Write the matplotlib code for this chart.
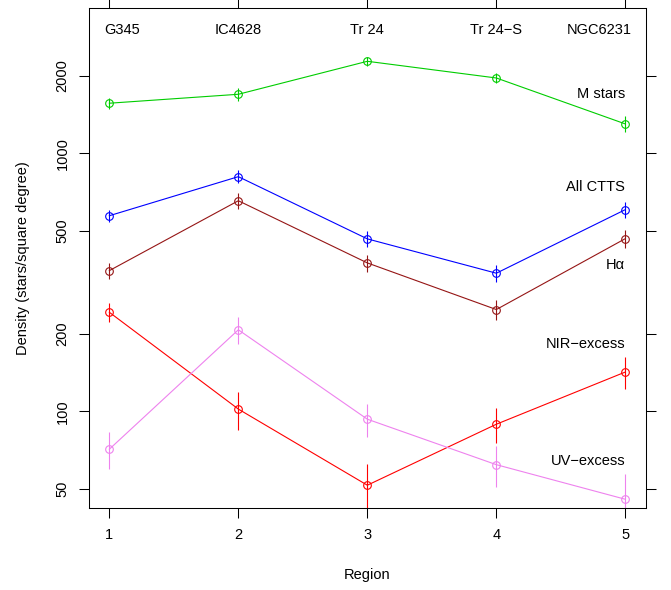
import matplotlib
matplotlib.use("Agg")
import matplotlib.pyplot as plt
from matplotlib.ticker import FixedLocator, NullLocator, FixedFormatter

plt.rcParams['font.family'] = ['Liberation Sans', 'DejaVu Sans']
plt.rcParams['font.size'] = 10.5

# surface densities per region
regions = [1, 2, 3, 4, 5]
region_names = ["G345", "IC4628", "Tr 24", "Tr 24\u2212S", "NGC6231"]
name_x = [1.1, 2, 3, 4, 4.8]

m_stars = [1564, 1694, 2274, 1959, 1300]
m_stars_err = [75, 100, 95, 92, 94]
all_ctts = [573, 812, 466, 343, 605]
all_ctts_err = [31, 48, 32, 27, 42]
halpha = [351, 655, 376, 248, 467]
halpha_err = [25, 46, 28, 22, 38]
nir_excess = [242, 102, 51.7, 89.1, 142]
nir_excess_err = [21, 17, 10.7, 14, 20.5]
uv_excess = [71.3, 207, 93.2, 62.1, 45.6]
uv_excess_err = [11.5, 24.5, 13.8, 11.4, 11.4]

series_labels = ["M stars", "All CTTS", "H\u03b1", "NIR\u2212excess", "UV\u2212excess"]
label_y = [1700, 740, 370, 182, 64]

yticks = [50, 100, 200, 500, 1000, 2000]

fig = plt.figure(figsize=(6.71, 5.90), dpi=100)
ax = fig.add_axes([0.1322, 0.1395, 0.9627 - 0.1322, 0.9864 - 0.1395])

series = [
    (m_stars, m_stars_err, "#00CD00"),
    (all_ctts, all_ctts_err, "#0000FF"),
    (halpha, halpha_err, "#951515"),
    (nir_excess, nir_excess_err, "#FF0000"),
    (uv_excess, uv_excess_err, "#EE82EE"),
]
for vals, errs, col in series:
    ax.errorbar(regions, vals, yerr=errs, color=col, lw=0.8, elinewidth=0.8,
                capsize=0, marker="o", ms=5.5, mfc="none", mec=col, mew=0.8)

ax.set_yscale("log")
ax.set_xlim(0.84, 5.16)
ax.set_ylim(42.3, 3658)

for x, name in zip(name_x, region_names):
    ax.text(x, 3000, name, ha="center", va="center")
for y, name in zip(label_y, series_labels):
    ax.text(5, y, name, ha="right", va="center")

ax.xaxis.set_major_locator(FixedLocator(regions))
ax.xaxis.set_major_formatter(FixedFormatter([str(r) for r in regions]))
ax.yaxis.set_major_locator(FixedLocator(yticks))
ax.yaxis.set_major_formatter(FixedFormatter([str(t) for t in yticks]))
ax.yaxis.set_minor_locator(NullLocator())

ax.tick_params(axis="both", which="major", direction="out", length=7.2,
               width=0.75, top=True, right=True, labelsize=10.5)
ax.tick_params(axis="x", pad=7.5)
ax.tick_params(axis="y", pad=6.5)
for lab in ax.get_yticklabels():
    lab.set_rotation(90)
    lab.set_va("center")
for sp in ax.spines.values():
    sp.set_linewidth(0.75)

ax.set_xlabel("Region", va="center")
ax.xaxis.set_label_coords(0.5, -0.135)
ax.set_ylabel("Density (stars/square degree)", va="center")
ax.yaxis.set_label_coords(-0.118, 0.5)

fig.savefig("out.png", dpi=100)
